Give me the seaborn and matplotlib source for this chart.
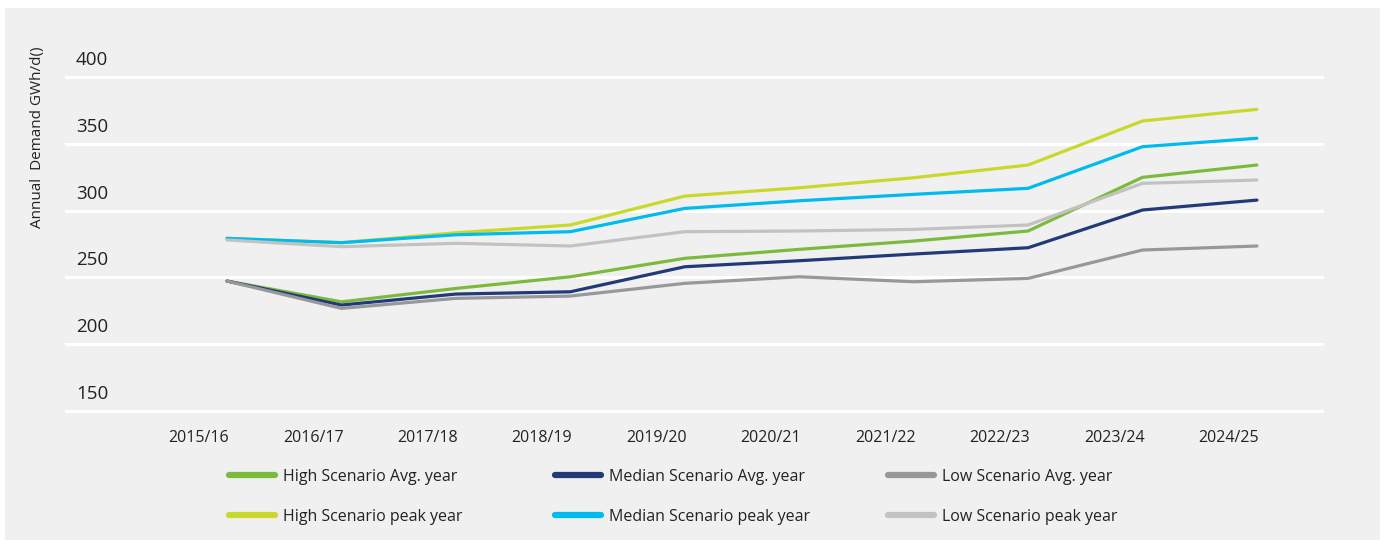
import matplotlib
matplotlib.use("Agg")
import matplotlib.pyplot as plt
import matplotlib.transforms as mtransforms
from matplotlib.patches import Rectangle
from matplotlib.lines import Line2D
import seaborn as sns
import pandas as pd

years = ["2015/16", "2016/17", "2017/18", "2018/19", "2019/20",
         "2020/21", "2021/22", "2022/23", "2023/24", "2024/25"]

high_avg = [247.3, 231.8, 241.8, 250.5, 264.3, 271.0, 277.2, 284.7, 324.8, 334.0]
median_avg = [247.3, 229.4, 237.6, 239.3, 258.0, 262.5, 267.5, 272.2, 300.4, 307.8]
low_avg = [247.3, 226.9, 234.4, 236.1, 245.6, 250.5, 246.8, 249.3, 270.5, 273.5]
high_peak = [279.2, 276.0, 283.4, 289.2, 310.8, 317.0, 324.5, 334.0, 366.9, 375.6]
median_peak = [279.2, 276.0, 281.9, 284.2, 301.6, 307.3, 312.1, 316.6, 347.7, 354.0]
low_peak = [278.0, 273.0, 275.5, 273.5, 284.2, 284.7, 285.9, 289.2, 320.3, 322.8]

series_names = ["High Scenario Avg. year", "High Scenario peak year",
                "Median Scenario Avg. year", "Median Scenario peak year",
                "Low Scenario Avg. year", "Low Scenario peak year"]
series_values = [high_avg, high_peak, median_avg, median_peak, low_avg, low_peak]
colors = ["#7cba3e", "#c8d92c", "#223a78", "#00bcee", "#98989a", "#c2c2c3"]
y_ticks = [150, 200, 250, 300, 350, 400]
y_label = "Annual  Demand GWh/d()"

rows = []
for name, vals in zip(series_names, series_values):
    for i, v in enumerate(vals):
        rows.append({"series": name, "idx": i, "value": v})
df = pd.DataFrame(rows)

sns.set_theme(style="white")
plt.rcParams["font.family"] = ["Open Sans", "DejaVu Sans"]

W, H = 1384, 544
fig = plt.figure(figsize=(W / 100, H / 100), dpi=100, facecolor="white")
fig.patches.append(Rectangle((5 / W, 4 / H), 1375 / W, 532 / H, transform=fig.transFigure,
                             facecolor="#f0f0f0", edgecolor="none", zorder=-10))

ax = fig.add_axes([65 / W, 1 - 424.7 / H, 1259 / W, (424.7 - 63.3) / H])
ax.set_zorder(1)
ax.set_facecolor("#f0f0f0")
palette = dict(zip(series_names, colors))
order = ["High Scenario Avg. year", "Median Scenario Avg. year", "Low Scenario Avg. year",
         "High Scenario peak year", "Median Scenario peak year", "Low Scenario peak year"]
sns.lineplot(data=df, x="idx", y="value", hue="series", hue_order=order, palette=palette,
             linewidth=2.3, legend=False, ax=ax, solid_capstyle="round")

ax.set_xlim(-1.416, 9.586)
ax.set_ylim(140, 410)
ax.set_yticks(y_ticks)
ax.set_yticklabels([])
ax.tick_params(axis="y", length=0)
ax.yaxis.grid(True, color="white", linewidth=2.2)
ax.xaxis.grid(False)
for s in ax.spines.values():
    s.set_visible(False)
ax.set_axisbelow(True)

ax.set_xticks(range(len(years)))
ax.set_xticklabels(years, ha="right", fontsize=11.5, color="#222222")
ax.tick_params(axis="x", length=0, pad=4)
for lab in ax.get_xticklabels():
    lab.set_transform(lab.get_transform() + mtransforms.ScaledTranslation(0.02, 0, fig.dpi_scale_trans))
ax.set_xlabel("")
ax.set_ylabel("")

ytrans = mtransforms.offset_copy(ax.get_yaxis_transform(), fig=fig, x=11, y=17, units="dots")
for t in y_ticks:
    ax.text(0, t, str(t), transform=ytrans, ha="left", va="center", fontsize=13.5, color="#222222")

fig.text(38 / W, 1 - 137 / H, y_label, rotation=90, ha="center", va="center",
         fontsize=11, color="#222222")

col_x = [229, 555, 888]
for c, xpx in enumerate(col_x):
    handles = []
    labels = []
    for name in series_names[2 * c:2 * c + 2]:
        handles.append(Line2D([0], [0], color=palette[name], linewidth=4.5, solid_capstyle="round"))
        labels.append(name)
    fig.legend(handles, labels, loc="upper left", bbox_to_anchor=(xpx / W, 1 - 469 / H),
               bbox_transform=fig.transFigure, frameon=False, fontsize=11.5,
               handlelength=2.9, handletextpad=0.45, labelspacing=1.5, borderpad=0,
               borderaxespad=0, labelcolor="#222222")

fig.savefig("out.png", dpi=100, facecolor="white")
